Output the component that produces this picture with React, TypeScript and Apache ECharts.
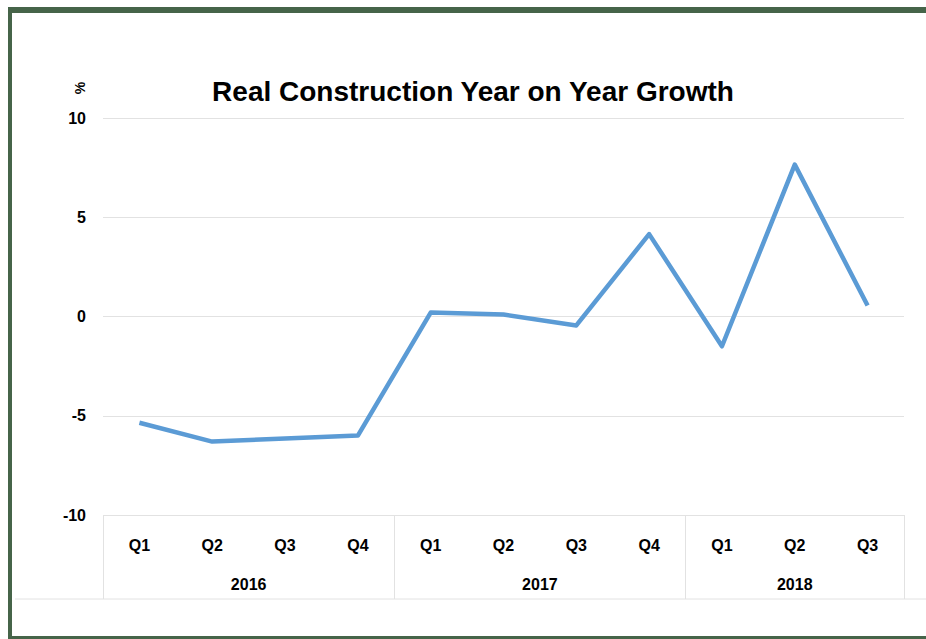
import React, { useEffect, useRef } from "react";
import * as echarts from "echarts";

const quarters = ["Q1", "Q2", "Q3", "Q4", "Q1", "Q2", "Q3", "Q4", "Q1", "Q2", "Q3"];
const years = ["2016", "2017", "2018"];
const yearCenters = [2, 6, 9.5];
const yearBoundaries = [0, 4, 8, 11];
const growth = [-5.35, -6.3, -6.15, -6.0, 0.2, 0.1, -0.45, 4.15, -1.5, 7.65, 0.55];
const yTicks = { min: -10, max: 10, interval: 5 };

const BORDER = "#466449";
const GRIDC = "#e2e2e2";
const FONT = "'Liberation Sans', Arial, sans-serif";

export default function App() {
  const ref = useRef<HTMLDivElement>(null);
  useEffect(() => {
    if (!ref.current) return;
    const chart = echarts.init(ref.current, null, { renderer: "svg" });
    chart.setOption({
      animation: false,
      backgroundColor: "#ffffff",
      grid: { left: 103, right: 22, top: 118, bottom: 124 },
      xAxis: [
        {
          type: "category",
          data: quarters,
          boundaryGap: true,
          position: "bottom",
          axisLine: { show: false },
          axisTick: { show: false },
          axisLabel: { color: "#000", fontFamily: FONT, fontWeight: "bold", fontSize: 16, margin: 22 },
          splitLine: { show: false },
        },
        {
          type: "value",
          min: 0,
          max: 11,
          position: "bottom",
          axisLine: { show: false },
          splitLine: { show: false },
          axisTick: {
            show: true,
            customValues: yearBoundaries,
            length: 84,
            lineStyle: { color: GRIDC, width: 1 },
          },
          axisLabel: {
            customValues: yearCenters,
            formatter: (v: number) => years[yearCenters.indexOf(v)] ?? "",
            color: "#000",
            fontFamily: FONT,
            fontWeight: "bold",
            fontSize: 16,
            margin: 61,
          },
        },
      ],
      yAxis: {
        type: "value",
        min: yTicks.min,
        max: yTicks.max,
        interval: yTicks.interval,
        axisLine: { show: false },
        axisTick: { show: false },
        axisLabel: { color: "#000", fontFamily: FONT, fontWeight: "bold", fontSize: 16, margin: 17 },
        splitLine: { lineStyle: { color: GRIDC, width: 1 } },
      },
      series: [
        {
          type: "line",
          data: growth,
          xAxisIndex: 0,
          symbol: "none",
          lineStyle: { color: "#5b9bd5", width: 4.5, join: "round" },
        },
      ],
      graphic: [
        { type: "rect", shape: { x: 8, y: 7, width: 918, height: 6 }, style: { fill: BORDER } },
        { type: "rect", shape: { x: 8, y: 7, width: 4, height: 632 }, style: { fill: BORDER } },
        { type: "rect", shape: { x: 8, y: 636, width: 918, height: 3 }, style: { fill: BORDER } },
        { type: "line", shape: { x1: 15, y1: 599, x2: 926, y2: 599 }, style: { stroke: GRIDC, lineWidth: 1 } },
        {
          type: "text",
          x: 473,
          y: 91,
          style: {
            text: "Real Construction Year on Year Growth",
            fill: "#000",
            font: `bold 28px ${FONT}`,
            align: "center",
            verticalAlign: "middle",
          },
        },
        {
          type: "text",
          x: 80,
          y: 88,
          rotation: Math.PI / 2,
          style: {
            text: "%",
            fill: "#000",
            font: `bold 14px ${FONT}`,
            align: "center",
            verticalAlign: "middle",
          },
        },
      ],
    });
    return () => chart.dispose();
  }, []);
  return (
    <div
      ref={ref}
      style={{ position: "absolute", left: 0, top: 0, width: 926, height: 639 }}
    />
  );
}
